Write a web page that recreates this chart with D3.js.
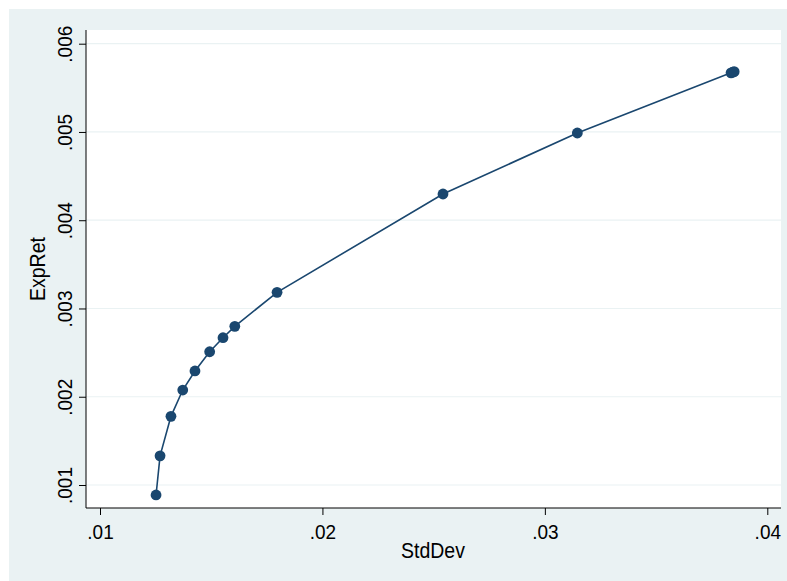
<!DOCTYPE html>
<html>
<head>
<meta charset="utf-8">
<script src="https://cdn.jsdelivr.net/npm/d3@7"></script>
<style>
  html, body { margin: 0; padding: 0; background: #ffffff; }
  svg { display: block; }
  text { font-family: "Liberation Sans", Arial, sans-serif; fill: #000; }
</style>
</head>
<body>
<svg id="chart" width="787" height="581"></svg>
<script>
// Efficient frontier: portfolio standard deviation vs expected return
const stdDev = [0.01252, 0.01270, 0.01319, 0.01372, 0.01427, 0.01493, 0.01553, 0.01606, 0.01796, 0.02542, 0.03146, 0.03837, 0.03845, 0.03851];
const expRet = [0.000887, 0.001330, 0.001778, 0.002076, 0.002292, 0.002510, 0.002669, 0.002798, 0.003183, 0.004297, 0.004988, 0.005670, 0.005677, 0.005683];
const xTicks = [0.01, 0.02, 0.03, 0.04];
const yTicks = [0.001, 0.002, 0.003, 0.004, 0.005, 0.006];
const xTitle = "StdDev";
const yTitle = "ExpRet";

const svg = d3.select("#chart");
const navy = "#1a476f";
const bg = "#eaf2f3";
const fontSize = 19;

// graph region background
svg.append("rect").attr("x", 9).attr("y", 9).attr("width", 778).attr("height", 572).attr("fill", bg);

const plot = { left: 86, right: 781, top: 30, bottom: 508 };

// plot region
svg.append("rect")
  .attr("x", plot.left).attr("y", plot.top)
  .attr("width", plot.right - plot.left).attr("height", plot.bottom - plot.top)
  .attr("fill", "#ffffff");

const x = d3.scaleLinear().domain([0.01, 0.04]).range([100, 767.3]);
const y = d3.scaleLinear().domain([0.001, 0.006]).range([485, 43.7]);

const fmt = d => d3.format(".3~f")(d).replace(/^0/, "");

// horizontal grid lines
svg.append("g").selectAll("line").data(yTicks).join("line")
  .attr("x1", plot.left).attr("x2", plot.right)
  .attr("y1", d => y(d)).attr("y2", d => y(d))
  .attr("stroke", bg).attr("stroke-width", 1.2);

// y axis
const yAxis = svg.append("g")
  .attr("transform", `translate(${plot.left},0)`)
  .call(d3.axisLeft(y).tickValues(yTicks).tickSize(7).tickPadding(6).tickFormat(fmt).tickSizeOuter(0));
yAxis.select(".domain").attr("d", `M0,${plot.top}V${plot.bottom}`).attr("stroke", "#000");
yAxis.selectAll(".tick line").attr("stroke", "#000");
yAxis.selectAll(".tick text")
  .attr("text-anchor", "middle")
  .attr("x", 0).attr("dy", 0)
  .attr("transform", "translate(-14,0) rotate(-90) scale(1,1.1)");

// x axis
const xAxis = svg.append("g")
  .attr("transform", `translate(0,${plot.bottom})`)
  .call(d3.axisBottom(x).tickValues(xTicks).tickSize(7).tickPadding(6).tickFormat(fmt).tickSizeOuter(0));
xAxis.select(".domain").attr("d", `M${plot.left},0H${plot.right}`).attr("stroke", "#000");
xAxis.selectAll(".tick line").attr("stroke", "#000");
xAxis.selectAll(".tick text")
  .attr("y", 0).attr("dy", 0)
  .attr("transform", "translate(0,31) scale(1,1.1)");
svg.selectAll(".tick text")
  .attr("font-size", fontSize)
  .attr("font-family", "'Liberation Sans', Arial, sans-serif").attr("fill", "#000");

// axis titles
svg.append("text")
  .attr("transform", `translate(${(plot.left + plot.right) / 2 - 0.5},558) scale(1,1.1)`)
  .attr("text-anchor", "middle").attr("font-size", fontSize + 0.5)
  .text(xTitle);
svg.append("text")
  .attr("transform", `translate(45,${(plot.top + plot.bottom) / 2}) rotate(-90) scale(1,1.1)`)
  .attr("text-anchor", "middle").attr("font-size", fontSize + 0.5)
  .text(yTitle);

// connected line and markers
const pts = stdDev.map((s, i) => [s, expRet[i]]);
svg.append("path")
  .datum(pts)
  .attr("fill", "none").attr("stroke", navy).attr("stroke-width", 1.6)
  .attr("d", d3.line().x(d => x(d[0])).y(d => y(d[1])));

svg.append("g").selectAll("circle").data(pts).join("circle")
  .attr("cx", d => x(d[0])).attr("cy", d => y(d[1]))
  .attr("r", 5.4).attr("fill", navy);
</script>
</body>
</html>
